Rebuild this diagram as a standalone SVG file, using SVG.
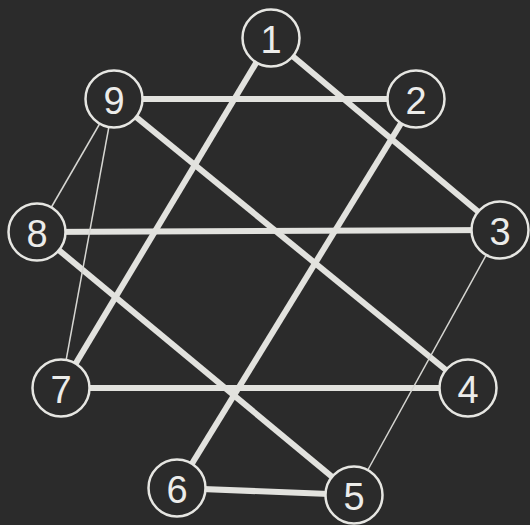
<svg xmlns="http://www.w3.org/2000/svg" width="530" height="525" viewBox="0 0 530 525">
<style>
.thick{stroke:#e2e2de;stroke-width:6;stroke-linecap:butt;fill:none}
.thin{stroke:#d6d6d2;stroke-width:1.5;fill:none}
.node circle{fill:#2b2b2b;stroke:#e6e6e2;stroke-width:2.5}
.node text{fill:#ececea;font-family:"Liberation Sans","DejaVu Sans",sans-serif;font-size:38px;text-anchor:middle;dominant-baseline:central}
</style>
<rect width="530" height="525" fill="#2b2b2b"/>
<g id="connectors">
<line class="thick" x1="271" y1="38" x2="500" y2="230"/>
<line class="thick" x1="271" y1="38" x2="61" y2="388"/>
<line class="thick" x1="114" y1="99" x2="416" y2="99"/>
<line class="thick" x1="114" y1="99" x2="468" y2="388"/>
<line class="thick" x1="37" y1="232" x2="500" y2="230"/>
<line class="thick" x1="37" y1="232" x2="354" y2="495"/>
<line class="thick" x1="61" y1="388" x2="468" y2="388"/>
<line class="thick" x1="416" y1="99" x2="177" y2="488"/>
<line class="thick" x1="177" y1="488" x2="354" y2="495"/>
<line class="thin" x1="114" y1="99" x2="37" y2="232"/>
<line class="thin" x1="114" y1="99" x2="61" y2="388"/>
<line class="thin" x1="500" y1="230" x2="354" y2="495"/>
</g>
<g id="n1" class="node"><circle cx="271" cy="38" r="28.5"/><text x="271" y="40">1</text></g>
<g id="n2" class="node"><circle cx="416" cy="99" r="28.5"/><text x="416" y="101">2</text></g>
<g id="n3" class="node"><circle cx="500" cy="230" r="28.5"/><text x="500" y="232">3</text></g>
<g id="n4" class="node"><circle cx="468" cy="388" r="28.5"/><text x="468" y="390">4</text></g>
<g id="n5" class="node"><circle cx="354" cy="495" r="28.5"/><text x="354" y="497">5</text></g>
<g id="n6" class="node"><circle cx="177" cy="488" r="28.5"/><text x="177" y="490">6</text></g>
<g id="n7" class="node"><circle cx="61" cy="388" r="28.5"/><text x="61" y="390">7</text></g>
<g id="n8" class="node"><circle cx="37" cy="232" r="28.5"/><text x="37" y="234">8</text></g>
<g id="n9" class="node"><circle cx="114" cy="99" r="28.5"/><text x="114" y="101">9</text></g>
</svg>
